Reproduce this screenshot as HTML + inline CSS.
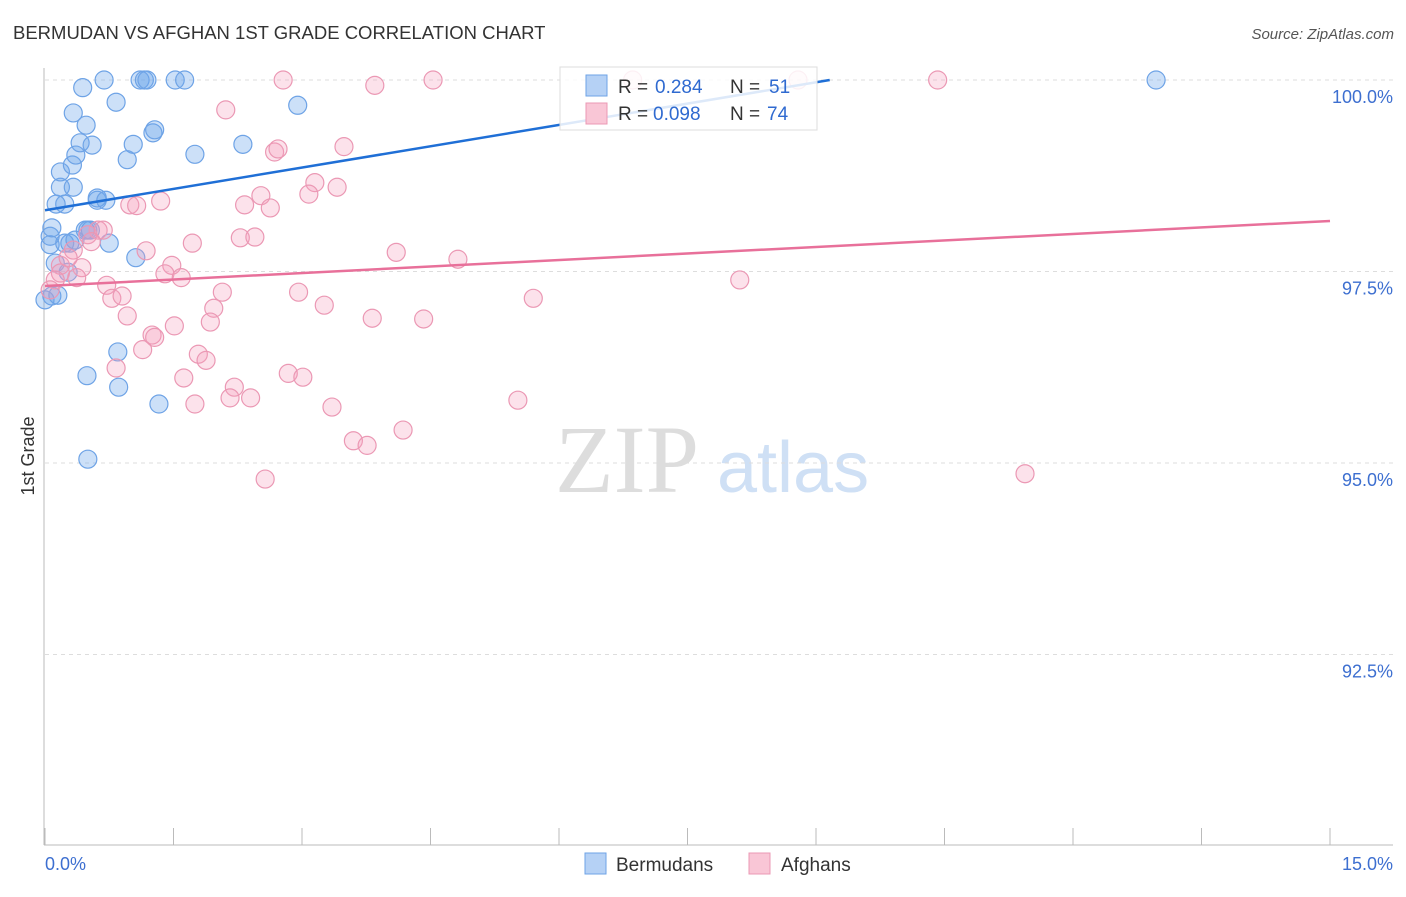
<!DOCTYPE html>
<html><head><meta charset="utf-8"><style>
body{margin:0;background:#fff;}
svg text{font-family:"Liberation Sans",sans-serif;}
</style></head><body>
<svg id="chart" width="1406" height="892">
<text x="13" y="39" font-size="18.5" fill="#333">BERMUDAN VS AFGHAN 1ST GRADE CORRELATION CHART</text>
<text x="1394" y="39" font-size="15" fill="#555" text-anchor="end" font-style="italic">Source: ZipAtlas.com</text>
<text x="34" y="456" font-size="18" fill="#333" text-anchor="middle" transform="rotate(-90 34 456)">1st Grade</text>
<g>
<text x="555" y="492" font-size="96" fill="#ddd" style="font-family:'Liberation Serif',serif">ZIP</text>
<text x="717" y="492" font-size="72" fill="#cfe0f5">atlas</text>
</g>
<g id="grid"></g>
<g id="pts"></g>
<g id="lines"></g>
<g>
<rect x="560" y="67" width="257" height="63" fill="#fff" fill-opacity="0.85" stroke="#ddd"/>
<rect x="586" y="75" width="21" height="21" fill="#b5d1f5" stroke="#6ea3e6"/>
<text x="618" y="93" font-size="19" fill="#333">R =</text><text x="655" y="93" font-size="19" fill="#2f6ad0">0.284</text>
<text x="730" y="93" font-size="19" fill="#333">N =</text><text x="769" y="93" font-size="19" fill="#2f6ad0">51</text>
<rect x="586" y="103" width="21" height="21" fill="#f9c6d6" stroke="#eb98b4"/>
<text x="618" y="120" font-size="19" fill="#333">R =</text><text x="653" y="120" font-size="19" fill="#2f6ad0">0.098</text>
<text x="730" y="120" font-size="19" fill="#333">N =</text><text x="767" y="120" font-size="19" fill="#2f6ad0">74</text>
</g>
<g>
<rect x="585" y="853" width="21" height="21" fill="#b5d1f5" stroke="#6ea3e6"/>
<text x="616" y="871" font-size="19" fill="#333">Bermudans</text>
<rect x="749" y="853" width="21" height="21" fill="#f9c6d6" stroke="#eb98b4"/>
<text x="781" y="871" font-size="19" fill="#333">Afghans</text>
</g>
<text x="45" y="870" font-size="18" fill="#3d6fd0">0.0%</text>
<text x="1393" y="870" font-size="18" fill="#3d6fd0" text-anchor="end">15.0%</text>
</svg>
<script>
const yTicks=[100,97.5,95,92.5];
const yTickLabels=["100.0%","97.5%","95.0%","92.5%"];
const xTicks=[0,1.5,3,4.5,6,7.5,9,10.5,12,13.5,15];
const bermX=[0,.08,.15,.12,.06,.06,.08,.23,.29,.27,.50,.47,.53,.75,1.06,.61,.61,.71,.23,.13,.18,.33,.18,.32,.36,.41,.55,.48,.33,.44,.83,.69,1.11,1.16,1.19,1.52,1.63,1.03,.96,1.26,1.28,1.75,2.31,2.95,12.97,.85,.49,.86,1.33,.50,.35];
const bermY=[97.13,97.18,97.19,97.61,97.85,97.96,98.07,97.87,97.87,97.49,98.04,98.04,98.04,97.87,97.68,98.43,98.46,98.43,98.38,98.38,98.60,98.60,98.80,98.89,99.02,99.18,99.15,99.41,99.57,99.90,99.71,100,100,100,100,100,100,99.16,98.96,99.31,99.35,99.03,99.16,99.67,100,96.45,96.14,95.99,95.77,95.05,97.91];
const afgX=[2.78,4.53,6.86,8.79,10.42,3.85,2.11,2.68,2.72,3.49,3.15,3.08,3.41,2.52,2.33,2.63,.99,1.07,1.35,.62,.50,.68,2.28,2.45,1.72,1.18,.54,.33,4.10,4.82,1.48,1.40,1.59,.18,.18,.43,.37,.72,.78,.90,2.07,2.96,1.97,3.26,5.70,8.11,.96,1.93,3.82,4.42,1.51,1.25,1.28,1.14,1.79,1.88,.83,1.62,2.84,3.01,2.21,2.16,2.40,1.75,3.35,5.52,3.60,3.76,4.18,2.57,11.44,.12,.27,.06];
const afgY=[100,100,100,100,100,99.93,99.61,99.06,99.10,99.13,98.66,98.51,98.60,98.49,98.37,98.33,98.37,98.36,98.42,98.04,97.98,98.04,97.94,97.95,97.87,97.77,97.89,97.78,97.75,97.66,97.58,97.47,97.42,97.58,97.48,97.55,97.42,97.32,97.15,97.18,97.23,97.23,97.02,97.06,97.15,97.39,96.92,96.84,96.89,96.88,96.79,96.67,96.64,96.48,96.42,96.34,96.24,96.11,96.17,96.12,95.99,95.85,95.85,95.77,95.73,95.82,95.29,95.23,95.43,94.79,94.86,97.39,97.68,97.26];
const bermLine=[[0,98.30],[9.16,100]];
const afgLine=[[0,97.31],[15,98.16]];
const NS="http://www.w3.org/2000/svg";
const X=v=>45+v/15*1285;
const Y=v=>80+(100-v)/2.5*191.5;
function mk(tag,attrs,parent){const e=document.createElementNS(NS,tag);for(const k in attrs)e.setAttribute(k,attrs[k]);parent.appendChild(e);return e;}
const grid=document.getElementById('grid');
let ax=mk('line',{x1:44,y1:68,x2:44,y2:845,stroke:'#bbb'},grid);


let bx=mk('line',{x1:44,y1:845,x2:1393,y2:845,stroke:'#bbb'},grid);


yTicks.forEach((t,i)=>{
 const g=mk('line',{x1:45,x2:1393,y1:Y(t),y2:Y(t),stroke:'#ddd','stroke-dasharray':'4 4'},grid);
 
 
 const l=mk('text',{x:1393,y:Y(t)+23,'font-size':18,fill:'#3d6fd0','text-anchor':'end'},grid);
 l.textContent=yTickLabels[i];
 
 
});
xTicks.forEach(t=>{
 const k=mk('line',{x1:X(t),x2:X(t),y1:828,y2:845,stroke:'#bbb'},grid);
 
 
});
const pts=document.getElementById('pts');
bermX.forEach((x,i)=>{
 const c=mk('circle',{cx:X(x),cy:Y(bermY[i]),r:9,fill:'rgba(110,165,235,0.35)',stroke:'#6ea3e6','stroke-width':1.2},pts);
 
 
});
afgX.forEach((x,i)=>{
 const c=mk('circle',{cx:X(x),cy:Y(afgY[i]),r:9,fill:'rgba(245,160,190,0.3)',stroke:'#eb98b4','stroke-width':1.2},pts);
 
 
});
const lines=document.getElementById('lines');
const l1=mk('line',{x1:X(bermLine[0][0]),y1:Y(bermLine[0][1]),x2:X(bermLine[1][0]),y2:Y(bermLine[1][1]),stroke:'#1f6fd6','stroke-width':2.5},lines);


const l2=mk('line',{x1:X(afgLine[0][0]),y1:Y(afgLine[0][1]),x2:X(afgLine[1][0]),y2:Y(afgLine[1][1]),stroke:'#e8709a','stroke-width':2.5},lines);


</script>
</body></html>
